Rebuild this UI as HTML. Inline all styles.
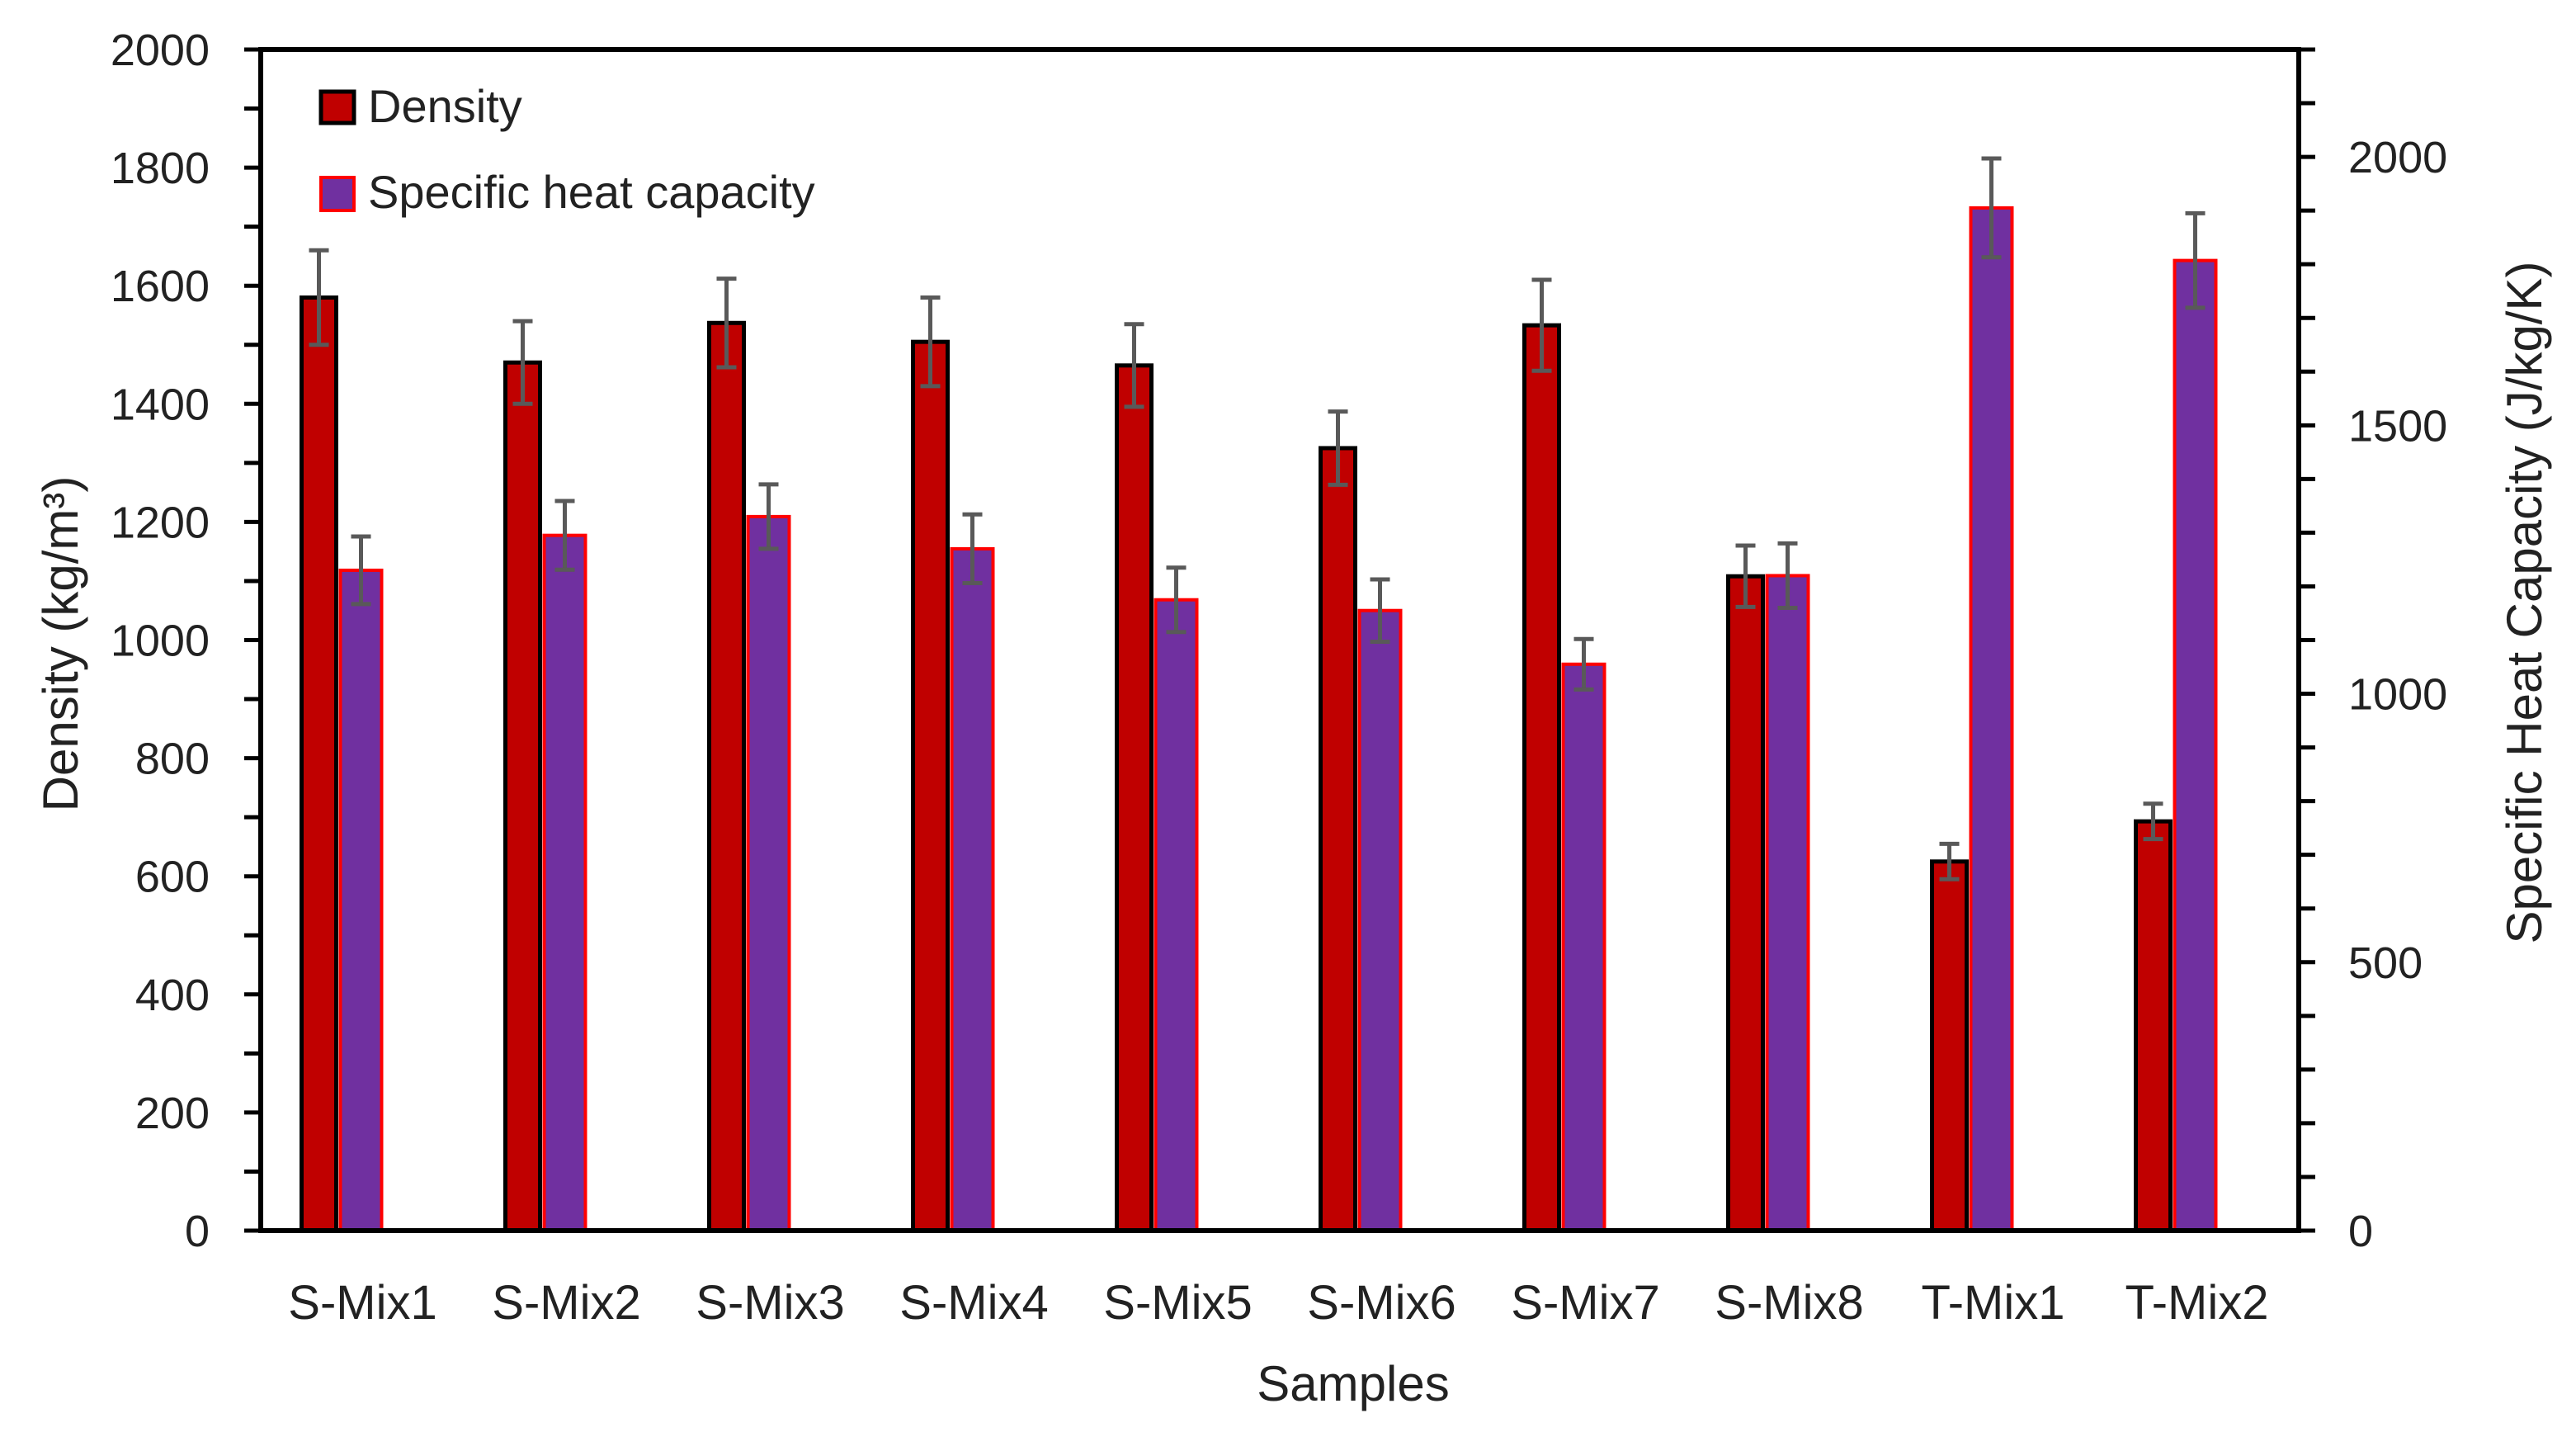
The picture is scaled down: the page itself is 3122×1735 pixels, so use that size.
<!DOCTYPE html>
<html><head><meta charset="utf-8"><style>
html,body{margin:0;padding:0;background:#fff;}
svg{display:block;font-family:"Liberation Sans",sans-serif;}
</style></head><body>
<svg id="chart" width="3122" height="1735" viewBox="0 0 3122 1735" xmlns="http://www.w3.org/2000/svg">
<g id="marks"></g>
<g id="axes"></g>
<g>
  <rect x="389" y="111" width="40" height="38" fill="#c00000" stroke="#000" stroke-width="5"/>
  <text x="446" y="148" font-size="56" fill="#222">Density</text>
  <rect x="389" y="215" width="40" height="40" fill="#7030a0" stroke="#ff0000" stroke-width="4"/>
  <text x="446" y="252" font-size="56" fill="#222">Specific heat capacity</text>
</g>
<text transform="translate(94,780) rotate(-90)" text-anchor="middle" font-size="60" fill="#222">Density (kg/m³)</text>
<text transform="translate(3080,730) rotate(-90)" text-anchor="middle" font-size="60" fill="#222">Specific Heat Capacity (J/kg/K)</text>
<text x="1640" y="1697" text-anchor="middle" font-size="60" fill="#222">Samples</text>
</svg>
<script>
const categories = ["S-Mix1","S-Mix2","S-Mix3","S-Mix4","S-Mix5","S-Mix6","S-Mix7","S-Mix8","T-Mix1","T-Mix2"];
const densityValues = [1580,1470,1537,1505,1465,1325,1533,1108,625,693];
const densityErrors = [80,70,75,75,70,62,77,52,30,30];
const heatValues = [1230,1295,1330,1270,1175,1155,1055,1220,1905,1807];
const heatErrors = [63,64,60,64,60,58,47,60,92,88];
const leftTicks = [0,200,400,600,800,1000,1200,1400,1600,1800,2000];
const rightTicks = [0,500,1000,1500,2000];

const NS="http://www.w3.org/2000/svg";
const L=316,R=2786,T=60,B=1491;
const yL=v=>B-(v/2000)*(B-T);
const yR=v=>B-(v/2200)*(B-T);
const band=(R-L)/categories.length;
const xc=i=>L+band*(i+0.5);
function mk(tag,parent,attrs){const e=document.createElementNS(NS,tag);for(const k in attrs)e.setAttribute(k,attrs[k]);parent.appendChild(e);return e;}
const marks=document.getElementById('marks'),axes=document.getElementById('axes');

categories.forEach((c,i)=>{
  const cx=xc(i);
  let y=yL(densityValues[i]);
  let r=mk('rect',marks,{x:cx-74,y:y,width:42,height:B-y,fill:'#c00000',stroke:'#000','stroke-width':5});
  
  
  y=yR(heatValues[i]);
  r=mk('rect',marks,{x:cx-27,y:y,width:50,height:B-y,fill:'#7030a0',stroke:'#ff0000','stroke-width':4});
  
  
  const eb=(x,v,e,f,name)=>{
    const g=mk('g',marks,{stroke:'#595959','stroke-width':5});
    
    
    mk('line',g,{x1:x,x2:x,y1:f(v+e),y2:f(v-e)});
    mk('line',g,{x1:x-12,x2:x+12,y1:f(v+e),y2:f(v+e)});
    mk('line',g,{x1:x-12,x2:x+12,y1:f(v-e),y2:f(v-e)});
  };
  eb(cx-53,densityValues[i],densityErrors[i],yL,'error-bar-density-'+c.toLowerCase());
  eb(cx-2,heatValues[i],heatErrors[i],yR,'error-bar-heat-capacity-'+c.toLowerCase());
  const t=mk('text',axes,{x:cx,y:1598,'text-anchor':'middle','font-size':58,fill:'#222'});
  t.textContent=c;
  
  
});

const fr=mk('rect',axes,{x:L,y:T,width:R-L,height:B-T,fill:'none',stroke:'#000','stroke-width':6});


for(let v=0;v<=2000;v+=100){
  const l=mk('line',axes,{x1:L-20,x2:L,y1:yL(v),y2:yL(v),stroke:'#000','stroke-width':5});
  
  
}
for(let v=0;v<=2200;v+=100){
  const l=mk('line',axes,{x1:R,x2:R+20,y1:yR(v),y2:yR(v),stroke:'#000','stroke-width':5});
  
  
}
leftTicks.forEach(v=>{
  const t=mk('text',axes,{x:254,y:yL(v)+19,'text-anchor':'end','font-size':54,fill:'#222'});
  t.textContent=v;
  
  
});
rightTicks.forEach(v=>{
  const t=mk('text',axes,{x:2846,y:yR(v)+19,'text-anchor':'start','font-size':54,fill:'#222'});
  t.textContent=v;
  
  
});
</script>
</body></html>
